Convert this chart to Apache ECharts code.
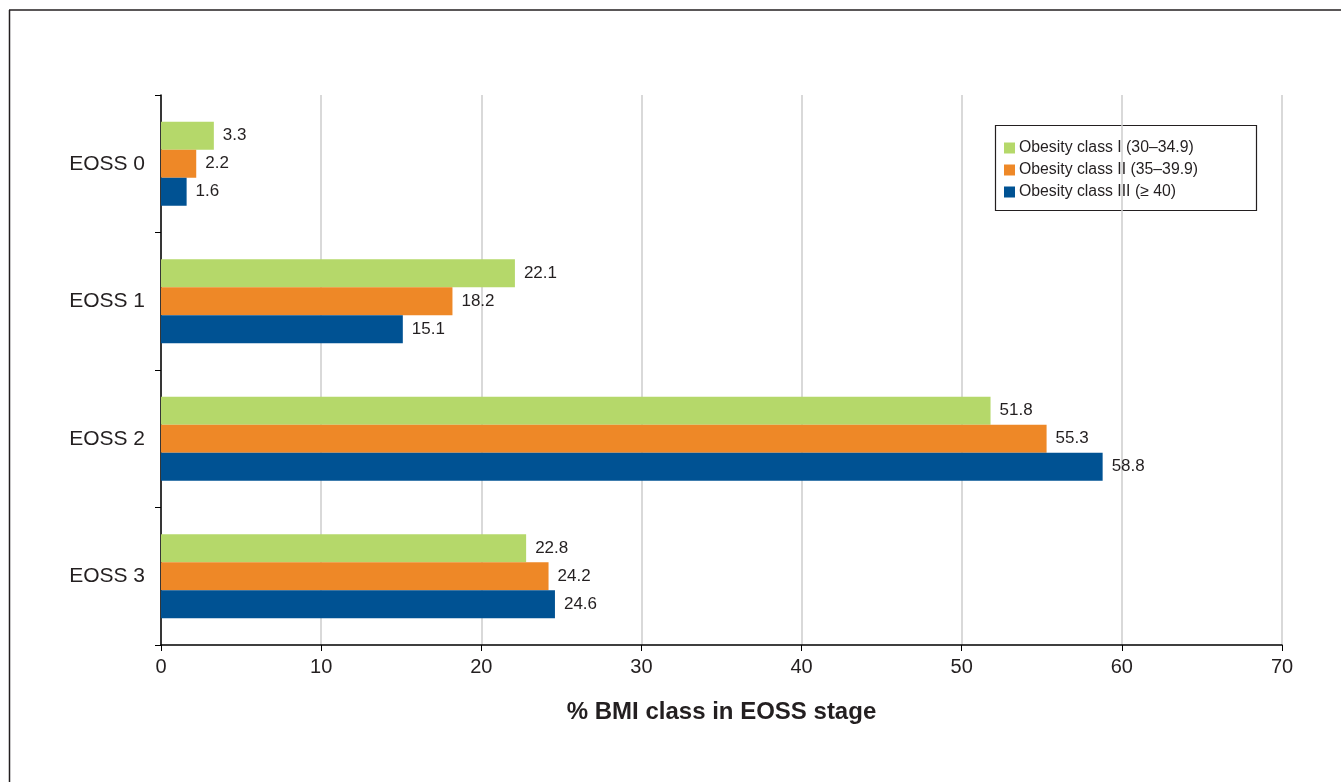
<!DOCTYPE html>
<html>
<head>
<meta charset="utf-8">
<script src="https://cdn.jsdelivr.net/npm/echarts@6/dist/echarts.min.js"></script>
<style>html,body{margin:0;padding:0;background:#fff;}#c{width:1341px;height:782px;}</style>
</head>
<body>
<div id="c"></div>
<script>
var categories = ['EOSS 0', 'EOSS 1', 'EOSS 2', 'EOSS 3'];
var seriesNames = ['Obesity class I (30\u201334.9)', 'Obesity class II (35\u201339.9)', 'Obesity class III (\u2265 40)'];
var classI = [3.3, 22.1, 51.8, 22.8];
var classII = [2.2, 18.2, 55.3, 24.2];
var classIII = [1.6, 15.1, 58.8, 24.6];
var xTicks = [0, 10, 20, 30, 40, 50, 60, 70];

var colors = ['#b5d86a', '#ee8827', '#005293'];
var font = 'Liberation Sans, Arial, Helvetica, sans-serif';
var chart = echarts.init(document.getElementById('c'));
function mk(name, data, color) {
  return {
    name: name, type: 'bar', data: data, barWidth: 28, barGap: '0%', barCategoryGap: '39%',
    itemStyle: { color: color },
    label: { show: true, position: 'right', distance: 9, fontSize: 17, color: '#231f20', fontFamily: font,
      formatter: function (p) { return p.value.toFixed(1); } }
  };
}
chart.setOption({
  animation: false,
  textStyle: { fontFamily: font },
  grid: { left: 161, right: 59, top: 95, bottom: 137, containLabel: false },
  legend: {
    orient: 'vertical', left: 1004, top: 140,
    data: seriesNames,
    itemWidth: 11, itemHeight: 11, itemGap: 6,
    padding: 0,
    icon: 'rect',
    textStyle: { fontSize: 15.8, color: '#231f20', fontFamily: font, padding: [0, 0, 0, -1] }
  },
  xAxis: {
    type: 'value', min: xTicks[0], max: xTicks[xTicks.length - 1], interval: 10,
    name: '% BMI class in EOSS stage', nameLocation: 'middle', nameGap: 55,
    nameTextStyle: { fontSize: 24, fontWeight: 'bold', color: '#231f20', fontFamily: font },
    axisLine: { show: true, lineStyle: { color: '#000', width: 1.5 } },
    axisTick: { show: true, length: 6, lineStyle: { color: '#000' } },
    axisLabel: { fontSize: 20, color: '#231f20', margin: 12, fontFamily: font },
    splitLine: { show: true, lineStyle: { color: '#cccccc', width: 1.5 } }
  },
  yAxis: {
    type: 'category', data: categories, inverse: true,
    axisLine: { show: true, lineStyle: { color: '#000', width: 1.5 } },
    axisTick: { show: true, length: 6, lineStyle: { color: '#000' } },
    axisLabel: { fontSize: 21, color: '#231f20', margin: 16, fontFamily: font }
  },
  graphic: [
    { type: 'line', shape: { x1: 9, y1: 10, x2: 1341, y2: 10 }, style: { stroke: '#231f20', lineWidth: 1.5 } },
    { type: 'line', shape: { x1: 9.5, y1: 10, x2: 9.5, y2: 782 }, style: { stroke: '#231f20', lineWidth: 1.5 } },
    { type: 'rect', shape: { x: 995.5, y: 125.5, width: 261, height: 85 }, style: { fill: '#fff', stroke: '#231f20', lineWidth: 1.2 }, z: 0 }
  ],
  series: [mk(seriesNames[0], classI, colors[0]), mk(seriesNames[1], classII, colors[1]), mk(seriesNames[2], classIII, colors[2])]
});
</script>
</body>
</html>
